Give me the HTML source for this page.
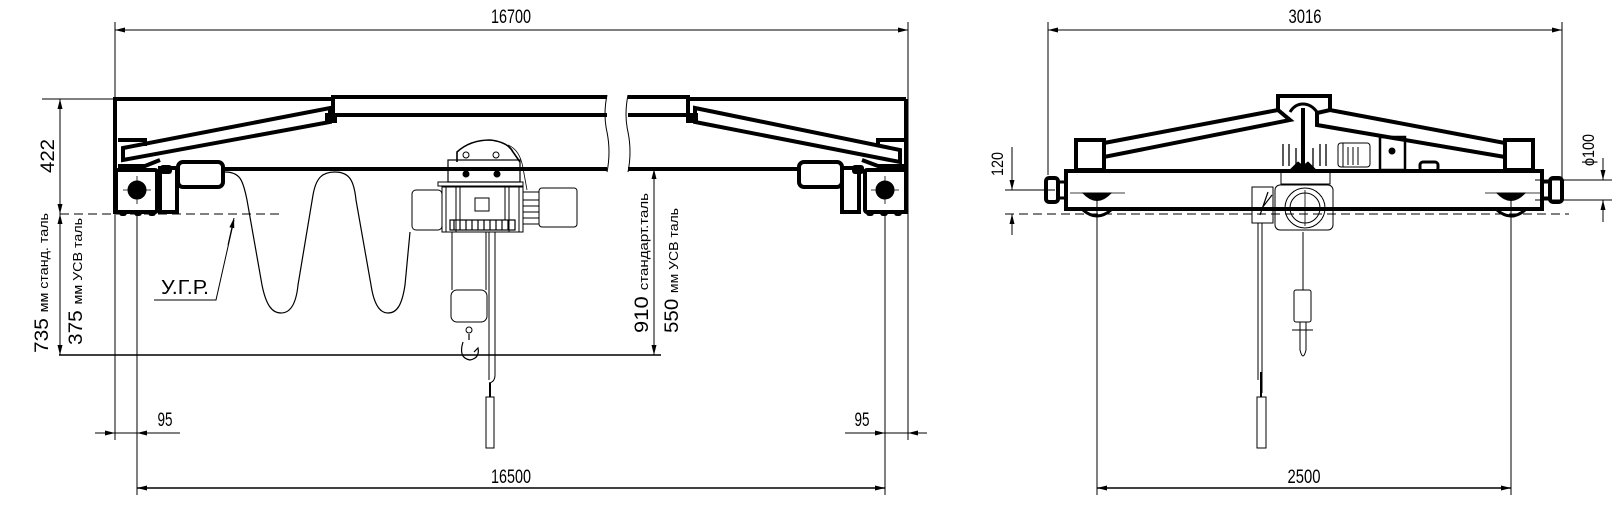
<!DOCTYPE html>
<html><head><meta charset="utf-8"><style>
html,body{margin:0;padding:0;background:#fff;}
svg{display:block;}
text{font-family:"Liberation Sans",sans-serif;fill:#000;}
</style></head><body>
<svg width="1619" height="518" viewBox="0 0 1619 518" xmlns="http://www.w3.org/2000/svg">
<defs>
<marker id="ar" viewBox="0 0 10 6" refX="10" refY="3" markerWidth="10" markerHeight="6" orient="auto-start-reverse" markerUnits="userSpaceOnUse"><path d="M0,0.5 L10,3 L0,5.5z" fill="#000"/></marker>
</defs>
<g fill="none" stroke="#000" stroke-width="1">
<line x1="115" y1="22" x2="115" y2="440"/>
<line x1="908" y1="22" x2="908" y2="440"/>
<line x1="115" y1="30" x2="908" y2="30" marker-start="url(#ar)" marker-end="url(#ar)"/>
<line x1="137" y1="214" x2="137" y2="495"/>
<line x1="885" y1="214" x2="885" y2="495"/>
<line x1="137" y1="488" x2="885" y2="488" stroke-width="1.6" marker-start="url(#ar)" marker-end="url(#ar)"/>
<line x1="95" y1="433" x2="180" y2="433"/>
<line x1="100" y1="433" x2="115" y2="433" marker-end="url(#ar)"/>
<line x1="152" y1="433" x2="137" y2="433" marker-end="url(#ar)"/>
<line x1="845" y1="433" x2="927" y2="433"/>
<line x1="870" y1="433" x2="885" y2="433" marker-end="url(#ar)"/>
<line x1="923" y1="433" x2="908" y2="433" marker-end="url(#ar)"/>
<line x1="42" y1="99" x2="115" y2="99"/>
<line x1="60" y1="99" x2="60" y2="214" marker-start="url(#ar)" marker-end="url(#ar)"/>
<line x1="60" y1="214" x2="60" y2="355" marker-start="url(#ar)" marker-end="url(#ar)"/>
<line x1="59" y1="355" x2="661" y2="355" stroke-width="1.4"/>
<line x1="654" y1="169" x2="654" y2="355" marker-start="url(#ar)" marker-end="url(#ar)"/>
<line x1="60" y1="214" x2="281" y2="214" stroke-dasharray="9,5"/>
<g stroke-width="4">
<polyline points="115,214 115,99 333,99"/>
<polyline points="333,113 333,97 607,97"/>
<line x1="333" y1="115" x2="607" y2="115"/>
<line x1="223" y1="169" x2="607" y2="169"/>
<polyline points="688,113 688,97 628,97"/>
<line x1="688" y1="99" x2="906" y2="99"/>
<line x1="628" y1="115" x2="688" y2="115"/>
<line x1="628" y1="169" x2="799" y2="169"/>
<line x1="906" y1="99" x2="906" y2="214"/>
<polygon points="123,148 330,108 330,122 123,160"/>
<polyline points="118,140 145,140 145,146"/>
<polyline points="118,166 145,166 160,160"/>
<polygon points="695,108 900,150 900,162 695,122"/>
<polyline points="906,140 878,140 878,146"/>
<polyline points="906,166 878,166 862,160"/>
<rect x="116" y="170" width="41" height="42" rx="2"/>
<rect x="160" y="168" width="17" height="44"/>
<rect x="178" y="162" width="45" height="25" rx="5"/>
<rect x="865" y="170" width="41" height="42" rx="2"/>
<rect x="842" y="168" width="17" height="44"/>
<rect x="799" y="162" width="43" height="25" rx="5"/>
</g>
<path d="M607,95 q-4,20 0,37 q4,20 0,40 M628,95 q-4,20 0,37 q4,20 0,40" stroke-width="1"/>
<circle cx="137" cy="190" r="9" fill="#000"/>
<circle cx="885" cy="190" r="9" fill="#000"/>
<path d="M123,190h28M137,176v28M871,190h28M885,176v28" stroke-width="0.8"/>
<g fill="#000" stroke="none">
<rect x="119" y="210" width="8" height="6" rx="3"/><rect x="134" y="210" width="8" height="6" rx="3"/><rect x="148" y="210" width="8" height="6" rx="3"/>
<rect x="866" y="210" width="8" height="6" rx="3"/><rect x="880" y="210" width="8" height="6" rx="3"/><rect x="894" y="210" width="8" height="6" rx="3"/>
<rect x="325" y="113" width="12" height="10"/><rect x="686" y="113" width="12" height="10"/>
<rect x="160" y="165" width="12" height="9" rx="3"/><rect x="852" y="165" width="12" height="9" rx="3"/>
</g>
<path d="M225,172 C240,172 243,180 247,200 L262,285 C266,305 272,313 281,313 C290,313 296,305 298,285 L313,195 C316,178 322,172 335,172 C349,172 354,180 356,200 L371,285 C374,305 380,313 388,313 C397,313 402,305 405,285 L410,232" stroke-width="1.2"/>
<polyline points="154,300 216,300 234,220" stroke-width="1"/>
<line x1="228" y1="245" x2="234" y2="218" marker-end="url(#ar)"/>
<path d="M457,162 L457,152 Q470,140 490,140 Q508,142 513,152 L520,162" stroke-width="1.6"/>
<rect x="448" y="160" width="72" height="22" stroke-width="1.2"/>
<rect x="438" y="182" width="85" height="4" stroke-width="1"/>
<circle cx="466" cy="155" r="3"/><circle cx="496" cy="155" r="3"/>
<circle cx="466" cy="174" r="3" fill="#000"/><circle cx="497" cy="174" r="3" fill="#000"/>
<path d="M508,145 Q520,150 523,168 L527,190" stroke-width="0.8"/>
<rect x="412" y="190" width="30" height="40" rx="4"/>
<rect x="442" y="187" width="81" height="45"/>
<rect x="446" y="187" width="10" height="45"/>
<rect x="509" y="187" width="10" height="45"/>
<rect x="460" y="187" width="45" height="33"/>
<rect x="475" y="198" width="14" height="13"/>
<rect x="450" y="220" width="65" height="10" stroke-width="1.2"/>
<path d="M454,220v10M460,220v10M466,220v10M472,220v10M478,220v10M484,220v10M490,220v10M496,220v10M502,220v10M508,220v10" stroke-width="1.2"/>
<rect x="523" y="192" width="16" height="32"/>
<rect x="539" y="188" width="38" height="39" rx="3"/>
<path d="M523,200h16M523,206h16M523,212h16M523,218h16"/>
<path d="M452,232 L452,290 M486,232 L486,290" />
<rect x="451" y="290" width="36" height="32" rx="6"/>
<circle cx="469" cy="330" r="3"/>
<path d="M469,334 L469,340 M463,342 Q458,358 470,360 Q480,358 478,348 L474,352" stroke-width="1.2"/>
<path d="M489,232 L489,380 M495,232 L495,375 Q495,382 489,383" stroke-width="1"/>
<rect x="486" y="397" width="8" height="51"/>
<line x1="490" y1="383" x2="490" y2="397" stroke-width="2"/>

<line x1="1048" y1="22" x2="1048" y2="175"/>
<line x1="1562" y1="22" x2="1562" y2="178"/>
<line x1="1048" y1="30" x2="1562" y2="30" marker-start="url(#ar)" marker-end="url(#ar)"/>
<line x1="1097" y1="195" x2="1097" y2="495"/>
<line x1="1511" y1="195" x2="1511" y2="495"/>
<line x1="1097" y1="488" x2="1511" y2="488" stroke-width="1.6" marker-start="url(#ar)" marker-end="url(#ar)"/>
<line x1="1005" y1="214" x2="1569" y2="214" stroke-dasharray="9,5"/>
<line x1="1005" y1="190" x2="1055" y2="190"/>
<line x1="1012" y1="147" x2="1012" y2="190" marker-end="url(#ar)"/>
<line x1="1012" y1="235" x2="1012" y2="214" marker-end="url(#ar)"/>
<line x1="1535" y1="180" x2="1612" y2="180"/>
<line x1="1535" y1="200" x2="1612" y2="200"/>
<line x1="1603" y1="158" x2="1603" y2="180" marker-end="url(#ar)"/>
<line x1="1603" y1="222" x2="1603" y2="200" marker-end="url(#ar)"/>
<g stroke-width="4">
<rect x="1066" y="171" width="476" height="38"/>
<rect x="1076" y="140" width="28" height="30"/>
<rect x="1505" y="140" width="28" height="30"/>
<polygon points="1104,143 1278,110 1290,120 1104,157"/>
<polygon points="1317,113 1330,110 1505,143 1505,157 1317,125"/>
<path d="M1278,112 V96 H1330 V112"/>
<rect x="1046" y="178" width="12" height="24" rx="3"/>
<rect x="1550" y="178" width="12" height="24" rx="3"/>
<line x1="1303" y1="108" x2="1303" y2="170"/>
<path d="M1290,112 Q1295,104 1303,104 Q1311,104 1317,112" stroke-width="3"/>
</g>
<path d="M1058,182h8M1058,198h8M1542,182h8M1542,198h8" stroke-width="3"/>
<path d="M1083,210 Q1097,222 1111,210 M1497,210 Q1511,222 1525,210" stroke-width="3"/>
<path d="M1083,193 Q1097,208 1111,193 L1083,193z M1497,193 Q1511,208 1525,193z" fill="#000"/>
<path d="M1070,193h55M1485,193h55" stroke-width="0.8"/>
<rect x="1275" y="185" width="58" height="45" rx="5"/>
<circle cx="1305" cy="208" r="20"/>
<circle cx="1305" cy="208" r="15"/>
<path d="M1305,190v36M1285,208h40" stroke-width="0.8"/>
<rect x="1252" y="187" width="21" height="36"/>
<path d="M1260,215 L1268,192 M1272,195 L1262,208" stroke-width="1.2"/>
<rect x="1281" y="172" width="49" height="12"/>
<rect x="1338" y="143" width="32" height="24" rx="3"/>
<path d="M1343,143v24M1348,147v18M1353,147v18M1358,147v18"/>
<rect x="1380" y="137" width="25" height="33" stroke-width="2.5"/>
<circle cx="1392" cy="151" r="3" fill="#000"/>
<path d="M1283,144v22M1289,144v22M1296,148v20M1313,148v20M1320,144v22M1326,144v22" stroke-width="1.3"/>
<path d="M1290,170 L1298,162 L1303,166 L1308,162 L1316,170z" fill="#000"/>
<rect x="1420" y="162" width="18" height="9" rx="3" stroke-width="3"/>
<path d="M1303,232 L1303,290 M1262,223 L1262,393 M1258,223 L1258,380"/>
<rect x="1294" y="290" width="17" height="32" rx="2"/>
<path d="M1300,322 L1300,350 Q1303,362 1306,350 L1306,322" />
<path d="M1292,330h21" stroke-width="1"/>
<rect x="1257" y="397" width="9" height="51"/>
<path d="M1261,372 L1261,397" stroke-width="2"/>
</g>
<text x="511" y="23" font-size="19" text-anchor="middle" textLength="40" lengthAdjust="spacingAndGlyphs">16700</text>
<text x="511" y="483" font-size="19" text-anchor="middle" textLength="40" lengthAdjust="spacingAndGlyphs">16500</text>
<text x="1305" y="23" font-size="19" text-anchor="middle" textLength="33" lengthAdjust="spacingAndGlyphs">3016</text>
<text x="1304" y="483" font-size="19" text-anchor="middle" textLength="33" lengthAdjust="spacingAndGlyphs">2500</text>
<text x="165" y="426" font-size="19" text-anchor="middle" textLength="15" lengthAdjust="spacingAndGlyphs">95</text>
<text x="862" y="426" font-size="19" text-anchor="middle" textLength="15" lengthAdjust="spacingAndGlyphs">95</text>
<text x="161" y="294" font-size="20" textLength="48" lengthAdjust="spacingAndGlyphs">У.Г.Р.</text>
<text transform="translate(54,156) rotate(-90)" font-size="19" text-anchor="middle" textLength="34" lengthAdjust="spacingAndGlyphs">422</text>
<text transform="translate(48,353) rotate(-90)" font-size="19" textLength="140" lengthAdjust="spacingAndGlyphs">735 <tspan font-size="13">мм станд. таль</tspan></text>
<text transform="translate(82,345) rotate(-90)" font-size="19" textLength="127" lengthAdjust="spacingAndGlyphs">375 <tspan font-size="13">мм УСВ таль</tspan></text>
<text transform="translate(648,333) rotate(-90)" font-size="19" textLength="140" lengthAdjust="spacingAndGlyphs">910 <tspan font-size="13">стандарт.таль</tspan></text>
<text transform="translate(678,333) rotate(-90)" font-size="19" textLength="125" lengthAdjust="spacingAndGlyphs">550 <tspan font-size="13">мм УСВ таль</tspan></text>
<text transform="translate(1003,164) rotate(-90)" font-size="17" text-anchor="middle" textLength="24" lengthAdjust="spacingAndGlyphs">120</text>
<text transform="translate(1594,150) rotate(-90)" font-size="17" text-anchor="middle" textLength="32" lengthAdjust="spacingAndGlyphs">ϕ100</text>
</svg>
</body></html>
